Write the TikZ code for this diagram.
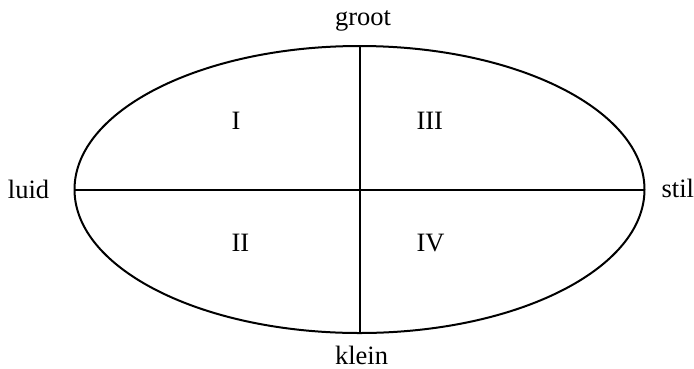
\documentclass[tikz,border=0pt]{standalone}
\usepackage{fontspec}
\setmainfont{Liberation Serif}
\usetikzlibrary{shapes.geometric}
\begin{document}
\begin{tikzpicture}[x=1pt,y=-1pt,
  lbl/.style={inner sep=0pt,outer sep=0pt,font=\fontsize{26.5}{30}\selectfont},
  stroke/.style={line width=2pt,black}]
\useasboundingbox (0,0) rectangle (694,368);
\node[ellipse,draw,stroke,minimum width=570pt,minimum height=287pt,inner sep=0pt,outer sep=0pt] (e) at (359.5,189.5) {};
\draw[stroke] (e.north) -- (e.south);
\draw[stroke] (e.west) -- (e.east);
\node[lbl,anchor=base] (groot) at (363,25) {groot};
\node[lbl,anchor=base] (klein) at (361.5,364) {klein};
\node[lbl,anchor=base west] (luid) at (8,198) {luid};
\node[lbl,anchor=base east] (stil) at (694,197) {stil};
\node[lbl,anchor=base west] (q1) at (231.5,129) {I};
\node[lbl,anchor=base west] (q3) at (416.5,129) {III};
\node[lbl,anchor=base west] (q2) at (231.5,251.5) {II};
\node[lbl,anchor=base west] (q4) at (416.5,251.5) {IV};
\end{tikzpicture}
\end{document}
